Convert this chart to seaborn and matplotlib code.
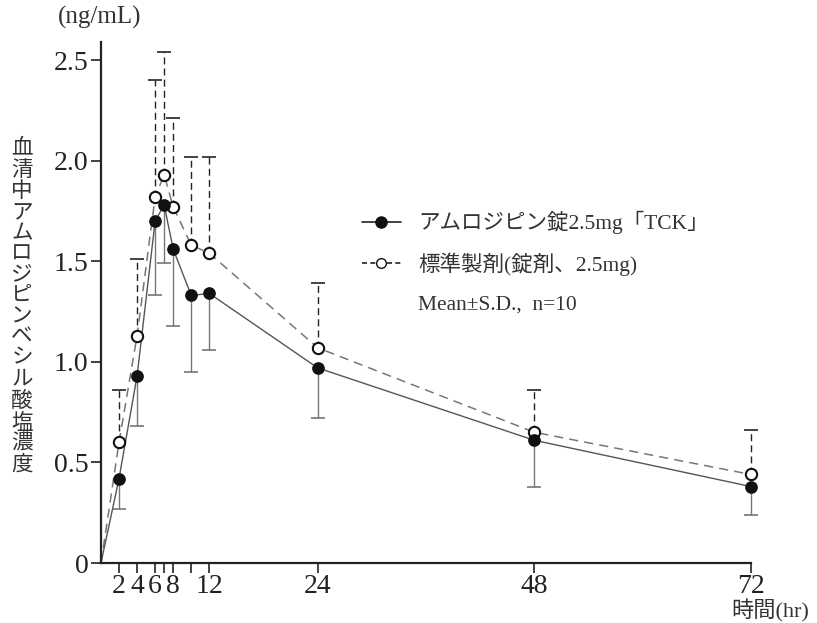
import numpy as np
import pandas as pd
import matplotlib
matplotlib.use("Agg")
import matplotlib.pyplot as plt
from matplotlib.lines import Line2D
import seaborn as sns

# Sampling times (hr) and serum concentrations (ng/mL), Mean and S.D.
hours = [2, 4, 6, 7, 8, 10, 12, 24, 48, 72]
tck_mean = [0.42, 0.93, 1.70, 1.78, 1.56, 1.33, 1.34, 0.97, 0.61, 0.38]
tck_sd = [0.15, 0.25, 0.37, 0.29, 0.38, 0.38, 0.28, 0.25, 0.23, 0.14]
ref_mean = [0.60, 1.13, 1.82, 1.93, 1.77, 1.58, 1.54, 1.07, 0.65, 0.44]
ref_sd = [0.26, 0.38, 0.58, 0.61, 0.44, 0.44, 0.48, 0.32, 0.21, 0.22]

tck_label = "アムロジピン錠2.5mg「TCK」"
ref_label = "標準製剤(錠剤、2.5mg)"
stat_label = "Mean±S.D.,  n=10"

xtick_pos = [2, 4, 6, 7, 8, 10, 12, 24, 48, 72]
xtick_labels = ["2", "4", "6", "", "8", "", "12", "24", "48", "72"]
ytick_pos = [0, 0.5, 1.0, 1.5, 2.0, 2.5]
ytick_labels = ["0", "0.5", "1.0", "1.5", "2.0", "2.5"]

ylabel = "血清中アムロジピンベシル酸塩濃度"
unit_label = "(ng/mL)"
xlabel = "時間(hr)"

sns.set_theme(style="white")
plt.rcParams["font.family"] = ["Liberation Serif", "Noto Sans CJK JP"]

fig = plt.figure(figsize=(8.17, 6.23), dpi=100)
ax = fig.add_axes([0.1236, 0.0963, 0.7956, 0.8363])

# lines start from the pre-dose point (0, 0)
line_x = [0] + hours
tck_line = [0] + tck_mean
ref_line = [0] + ref_mean

sns.lineplot(x=line_x, y=ref_line, ax=ax, color="#777777", lw=1.1,
             linestyle=(0, (6, 4)), zorder=2)
sns.lineplot(x=line_x, y=tck_line, ax=ax, color="#555555", lw=1.0, zorder=2)

h = np.array(hours)
tm, ts = np.array(tck_mean), np.array(tck_sd)
rm, rs = np.array(ref_mean), np.array(ref_sd)
zeros = np.zeros_like(h, dtype=float)

# one-sided S.D. bars: lower for TCK, upper for reference
eb1 = ax.errorbar(h, tm, yerr=[ts, zeros], fmt="none", ecolor="#777777",
                  elinewidth=1.0, capsize=0, zorder=1)
ax.scatter(h, tm - ts, marker="_", s=100, color="#777777", lw=1.2, zorder=1,
           clip_on=False)
eb2 = ax.errorbar(h, rm, yerr=[zeros, rs], fmt="none", ecolor="#222222",
                  elinewidth=1.0, capsize=0, zorder=1)
for c in eb2[2]:
    c.set_linestyle((0, (5, 3)))
for eb in (eb1, eb2):
    for c in eb.get_children():
        c.set_clip_on(False)
ax.scatter(h, rm + rs, marker="_", s=100, color="#222222", lw=1.2, zorder=1,
           clip_on=False)

sns.scatterplot(x=hours, y=ref_mean, ax=ax, marker="o", s=66,
                facecolor="white", edgecolor="#111111", linewidth=1.5,
                zorder=4, clip_on=False)
sns.scatterplot(x=hours, y=tck_mean, ax=ax, marker="o", s=66,
                color="#111111", edgecolor="#111111", linewidth=1.0,
                zorder=5, clip_on=False)

ax.set_xlim(0, 72)
ax.set_ylim(0, 2.59)
ax.set_xticks(xtick_pos)
ax.set_xticklabels(xtick_labels, fontsize=20, color="#222222")
ax.set_yticks(ytick_pos)
ax.set_yticklabels(ytick_labels, fontsize=20, color="#222222")
ax.tick_params(axis="both", direction="out", length=7, width=1.2,
               color="#222222", pad=2, bottom=True, left=True)
ax.tick_params(axis="x", pad=1)
for side in ["top", "right"]:
    ax.spines[side].set_visible(False)
for side in ["left", "bottom"]:
    ax.spines[side].set_color("#222222")
    ax.spines[side].set_linewidth(1.6)
ax.set_xlabel("")
ax.set_ylabel("")

fig.text(22 / 817, 1 - 308 / 623, "\n".join(ylabel), fontsize=15.5,
         ha="center", va="center", linespacing=1.13, color="#333333")
fig.text(100 / 817, 1 - 17 / 623, unit_label, fontsize=18,
         ha="center", va="center", color="#333333")
fig.text(770 / 817, 1 - 611 / 623, xlabel, fontsize=16,
         ha="center", va="center", color="#333333")

handles = [
    Line2D([], [], color="#222222", lw=1.2, marker="o", markersize=8,
           markerfacecolor="#111111", markeredgecolor="#111111"),
    Line2D([], [], color="#222222", lw=1.2, linestyle=(0, (3, 2)), marker="o",
           markersize=7, markerfacecolor="white", markeredgecolor="#111111"),
    Line2D([], [], linestyle="none"),
]
fig.legend(handles, [tck_label, ref_label, stat_label], loc="upper left",
           bbox_to_anchor=(362 / 817, 1 - 211 / 623), frameon=False,
           fontsize=15.5, handlelength=1.8, handletextpad=0.8,
           labelspacing=0.85, borderpad=0, borderaxespad=0,
           labelcolor="#333333")

fig.savefig("out.png", dpi=100)
